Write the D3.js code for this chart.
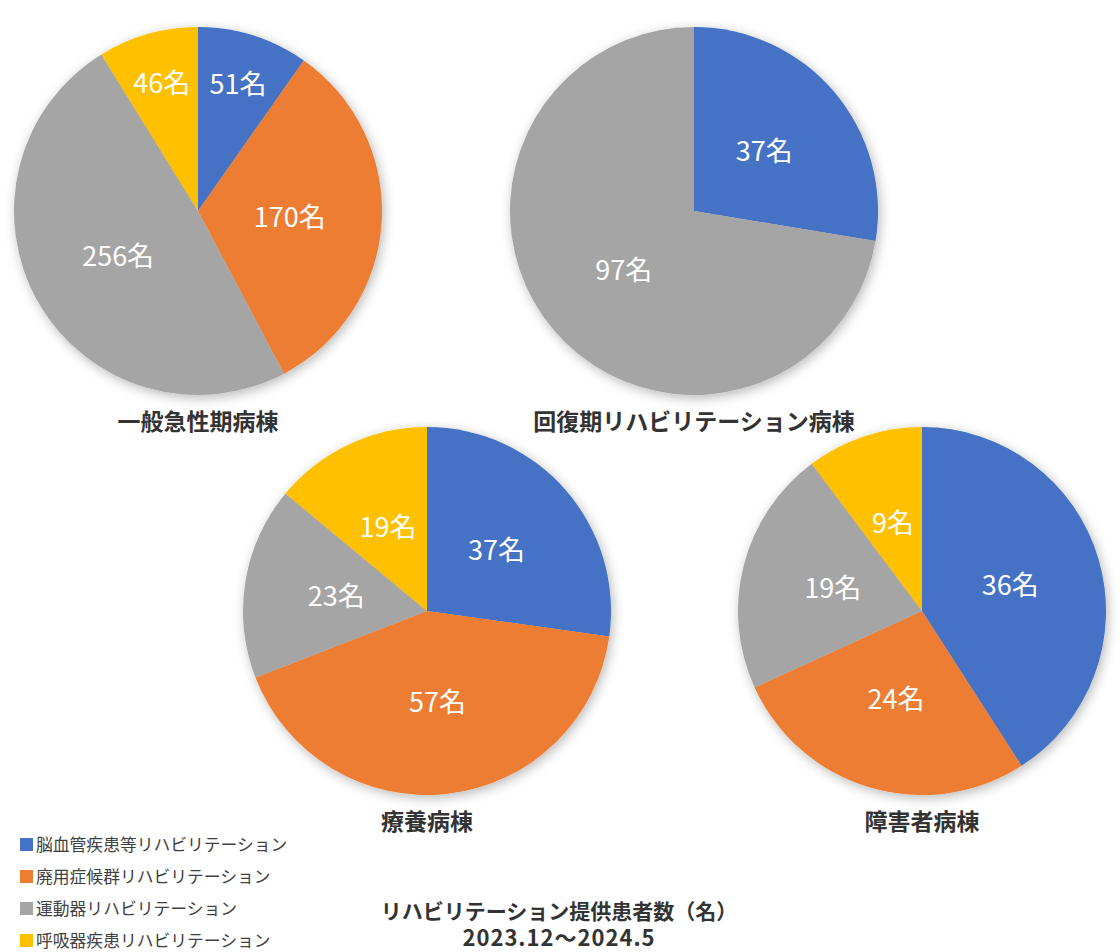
<!DOCTYPE html>
<html>
<head>
<meta charset="utf-8">
<script src="https://cdn.jsdelivr.net/npm/d3@7"></script>
<style>
  body { margin: 0; background: #fff; }
  svg { display: block; font-family: "Noto Sans CJK JP", "Noto Sans", sans-serif; }
</style>
</head>
<body>
<svg width="1120" height="952"></svg>
<script>
// categories (legend order = slice order, clockwise from 12 o'clock)
var categories = ["脳血管疾患等リハビリテーション", "廃用症候群リハビリテーション", "運動器リハビリテーション", "呼吸器疾患リハビリテーション"];
var colors = ["#4472C4", "#ED7D31", "#A5A5A5", "#FFC000"];

// wards
var wards = ["一般急性期病棟", "回復期リハビリテーション病棟", "療養病棟", "障害者病棟"];

// patients per ward, in category order
var acute = [51, 170, 256, 46];
var recovery = [37, 0, 97, 0];
var longterm = [37, 57, 23, 19];
var disability = [36, 24, 19, 9];

var titleLines = ["リハビリテーション提供患者数（名）", "2023.12～2024.5"];

var svg = d3.select("svg");
var R = 184;

var defs = svg.append("defs");
var f = defs.append("filter").attr("id", "shadow")
    .attr("x", "-20%").attr("y", "-20%").attr("width", "140%").attr("height", "140%");
f.append("feDropShadow")
    .attr("dx", 2).attr("dy", 3)
    .attr("stdDeviation", 6)
    .attr("flood-color", "#000")
    .attr("flood-opacity", 0.28);

var layout = [
  { values: acute,      cx: 198, cy: 211 },
  { values: recovery,   cx: 694, cy: 211 },
  { values: longterm,   cx: 427, cy: 611 },
  { values: disability, cx: 922, cy: 611 }
];

var pie = d3.pie().sort(null).value(function(d) { return d; });
var arc = d3.arc().innerRadius(0).outerRadius(R);

layout.forEach(function(p, i) {
    var g = svg.append("g").attr("transform", "translate(" + p.cx + "," + p.cy + ")");
    var total = d3.sum(p.values);
    var arcs = pie(p.values);

    g.append("g").attr("filter", "url(#shadow)")
      .selectAll("path")
      .data(arcs.filter(function(d) { return d.value > 0; }))
      .enter().append("path")
        .attr("d", arc)
        .attr("fill", function(d) { return colors[d.index]; });

    g.selectAll("text.lbl")
      .data(arcs.filter(function(d) { return d.value > 0; }))
      .enter().append("text")
        .attr("class", "lbl")
        .attr("transform", function(d) {
            // small slices get their label pushed outward
            var rr = d.value / total < 0.1 ? R * 0.72 : R * 0.5;
            var c = d3.arc().innerRadius(rr).outerRadius(rr).centroid(d);
            return "translate(" + c[0] + "," + c[1] + ")";
        })
        .attr("text-anchor", "middle")
        .attr("dy", "0.36em")
        .attr("fill", "#fff")
        .attr("font-size", "27px")
        .text(function(d) { return d.value + "名"; });

    svg.append("text")
        .attr("x", p.cx)
        .attr("y", p.cy + R + 35)
        .attr("text-anchor", "middle")
        .attr("font-size", "23px")
        .attr("font-weight", "bold")
        .attr("fill", "#333")
        .text(wards[i]);
});

// legend
var legend = svg.append("g").attr("transform", "translate(20,845)");
var item = legend.selectAll("g")
    .data(categories)
    .enter().append("g")
    .attr("transform", function(d, i) { return "translate(0," + (i * 32) + ")"; });
item.append("rect")
    .attr("x", 0).attr("y", -7)
    .attr("width", 13).attr("height", 13)
    .attr("fill", function(d, i) { return colors[i]; });
item.append("text")
    .attr("x", 16)
    .attr("dy", "0.35em")
    .attr("font-size", "16.8px")
    .attr("fill", "#404040")
    .text(function(d) { return d; });

// footer title (two lines in one text block)
var foot = svg.append("text")
    .attr("x", 559)
    .attr("y", 919)
    .attr("text-anchor", "middle")
    .attr("font-weight", "bold")
    .attr("fill", "#333");
foot.selectAll("tspan")
    .data(titleLines)
    .enter().append("tspan")
    .attr("x", 559)
    .attr("dy", function(d, i) { return i ? 27 : 0; })
    .attr("font-size", function(d, i) { return i ? "22px" : "21px"; })
    .attr("letter-spacing", function(d, i) { return i ? "1px" : "0px"; })
    .text(function(d) { return d; });
</script>
</body>
</html>
